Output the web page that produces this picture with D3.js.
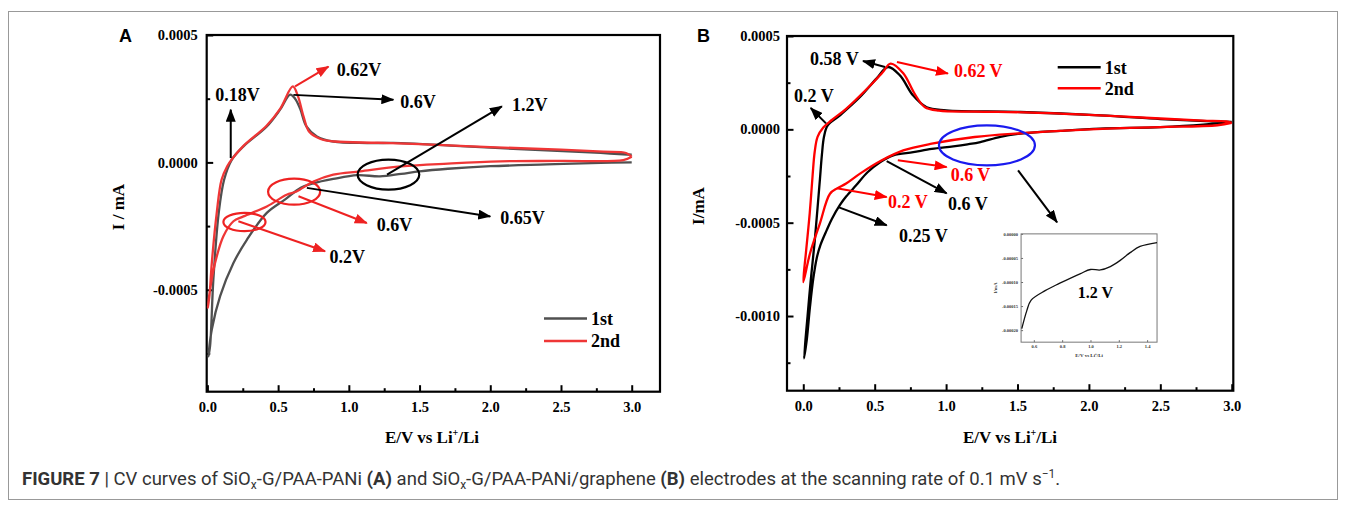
<!DOCTYPE html>
<html lang="en">
<head>
<meta charset="UTF-8">
<title>CV curves</title>
<style>
    body { margin: 0; background: #fff; }
    .serif { font-family: "Liberation Serif", "Times New Roman", serif; font-weight: bold; }
</style>
</head>
<body>
<script src="https://cdn.jsdelivr.net/npm/d3@7"></script>
<script>
    // ---- data (E in V, I in mA) ----
    const xTickValues = [0, 0.5, 1, 1.5, 2, 2.5, 3];
    const xTickLabels = ["0.0", "0.5", "1.0", "1.5", "2.0", "2.5", "3.0"];
    const xMinorValues = [0.25, 0.75, 1.25, 1.75, 2.25, 2.75];
    const yTickValuesA = [-0.0005, 0, 0.0005];
    const yTickLabelsA = ["-0.0005", "0.0000", "0.0005"];
    const yMinorValuesA = [-0.00075, -0.00025, 0.00025];
    const yTickValuesB = [-0.001, -0.0005, 0, 0.0005];
    const yTickLabelsB = ["-0.0010", "-0.0005", "0.0000", "0.0005"];
    const yMinorValuesB = [-0.00125, -0.00075, -0.00025, 0.00025];
    const seriesNames = ["1st", "2nd"];

    // panel A, 1st cycle (cathodic from 3.0 V, then anodic)
    const cvA1 = [
        [3.0, 0.0], [2.78, -0.000002], [2.4, -0.000008], [2.0, -0.000015], [1.7, -0.000025],
        [1.5, -0.000035], [1.37, -0.000045], [1.22, -0.000055], [1.06, -0.00005], [0.89, -0.000065],
        [0.75, -0.000082], [0.66, -0.0001], [0.55, -0.000145], [0.42, -0.000198], [0.28, -0.000303],
        [0.184, -0.000395], [0.09, -0.000525], [0.031, -0.000656], [0.007, -0.000761],
        [0.019, -0.00072], [0.042, -0.00046], [0.08, -0.000198], [0.118, -0.000068], [0.172, 0.00001],
        [0.255, 0.000063], [0.42, 0.000141], [0.514, 0.000207], [0.585, 0.000266], [0.62, 0.00025],
        [0.656, 0.00021], [0.7, 0.000141], [0.774, 0.000102], [0.89, 0.000082], [1.13, 0.000076],
        [1.37, 0.000076], [1.72, 0.000066], [2.2, 0.000052], [2.78, 0.000037], [3.0, 0.00003]
    ];
    // panel A, 2nd cycle
    const cvA2 = [
        [3.0, 0.000022], [2.94, 0.000009], [2.5, 0.000006], [2.07, 0.000004], [1.7, -0.000005],
        [1.37, -0.000016], [1.08, -0.000035], [0.89, -0.000048], [0.75, -0.000075], [0.63, -0.000114],
        [0.56, -0.000127], [0.42, -0.000173], [0.255, -0.000212], [0.184, -0.000231], [0.113, -0.00029],
        [0.054, -0.000395], [0.019, -0.000499], [0.003, -0.000571],
        [0.015, -0.00052], [0.031, -0.000395], [0.066, -0.000198], [0.1, -0.000068], [0.14, -0.000015],
        [0.172, 0.000012], [0.255, 0.000065], [0.42, 0.000145], [0.514, 0.00021], [0.604, 0.000298],
        [0.64, 0.00026], [0.68, 0.00018], [0.72, 0.00012], [0.8, 0.000092], [0.9, 0.000082],
        [1.2, 0.000077], [1.5, 0.000072], [2.0, 0.00006], [2.5, 0.00005], [2.8, 0.000042],
        [2.96, 0.000037], [3.0, 0.000022]
    ];
    // panel B, 1st cycle
    const cvB1 = [
        [3.0, 0.00004], [2.8, 0.000025], [2.5, 0.000012], [2.08, 0.000004], [1.8, -0.000008],
        [1.52, -0.000023], [1.38, -0.00004], [1.24, -0.000068], [1.15, -0.00008], [1.05, -0.000091],
        [0.9, -0.000105], [0.77, -0.000122], [0.63, -0.000139], [0.54, -0.000175], [0.45, -0.00023],
        [0.37, -0.0003], [0.3, -0.00036], [0.257, -0.000405], [0.2, -0.00048], [0.164, -0.00054],
        [0.12, -0.00062], [0.094, -0.00069], [0.07, -0.0008], [0.047, -0.00095], [0.024, -0.00113],
        [0.005, -0.001227],
        [0.03, -0.001], [0.052, -0.00081], [0.08, -0.0006], [0.1, -0.00042], [0.116, -0.000273],
        [0.13, -0.00014], [0.145, -0.00004], [0.17, 0.00002], [0.257, 0.000075], [0.397, 0.000173],
        [0.514, 0.000273], [0.593, 0.000334], [0.677, 0.000289], [0.768, 0.000182], [0.864, 0.000118],
        [1.0, 0.000102], [1.52, 0.000093], [2.08, 0.000075], [2.5, 0.000055], [2.78, 0.000045],
        [3.0, 0.00004]
    ];
    // panel B, 2nd cycle
    const cvB2 = [
        [3.0, 0.000034], [2.9, 0.000022], [2.5, 0.000012], [2.22, 0.000006], [1.8, -0.000008],
        [1.52, -0.000021], [1.2, -0.000041], [0.9, -0.000077], [0.7, -0.000113], [0.55, -0.000166],
        [0.4, -0.000236], [0.3, -0.00029], [0.24, -0.000315], [0.187, -0.000345], [0.116, -0.000505],
        [0.047, -0.000665], [0.0, -0.000818],
        [0.02, -0.00065], [0.045, -0.00045], [0.065, -0.00025], [0.08, -0.00012], [0.1, -0.00004],
        [0.14, 0.00001], [0.2, 0.00005], [0.3, 0.00011], [0.45, 0.00022], [0.55, 0.0003],
        [0.612, 0.000352], [0.7, 0.0003], [0.78, 0.00019], [0.85, 0.00012], [0.95, 0.0001],
        [1.2, 0.000095], [1.6, 0.00009], [2.0, 0.000078], [2.5, 0.000058], [2.8, 0.000047],
        [2.96, 0.000042], [3.0, 0.000034]
    ];
    // inset of panel B, 1st cycle near 1.2 V
    const insetB = [
        [0.515, -0.000197], [0.55, -0.00016], [0.58, -0.000138], [0.68, -0.000118], [0.78, -0.000103],
        [0.93, -0.0000824], [1.0, -0.000074], [1.07, -0.000075], [1.14, -0.000068], [1.21, -0.000055],
        [1.28, -0.000039], [1.35, -0.000026], [1.47, -0.000018]
    ];
    const insetXTicks = [0.6, 0.8, 1.0, 1.2, 1.4];
    const insetXLabels = ["0.6", "0.8", "1.0", "1.2", "1.4"];
    const insetYTicks = [0, -0.00005, -0.0001, -0.00015, -0.0002];
    const insetYLabels = ["0.00000", "-0.00005", "-0.00010", "-0.00015", "-0.00020"];

    let width = 1346;
    let height = 509;
    let svg = d3.select("body").append("svg")
        .attr("width", width)
        .attr("height", height);

    let defs = svg.append("defs");
    function marker(id, color) {
        defs.append("marker")
            .attr("id", id)
            .attr("markerUnits", "userSpaceOnUse")
            .attr("markerWidth", 13).attr("markerHeight", 10)
            .attr("refX", 12).attr("refY", 5)
            .attr("orient", "auto")
            .append("path").attr("d", "M0,0 L13,5 L0,10 Z").attr("fill", color);
    }
    marker("ak", "#000");
    marker("ar", "#ee2222");
    marker("ar2", "#ff0000");

    // outer figure frame
    svg.append("rect")
        .attr("x", 8.5).attr("y", 11.5)
        .attr("width", 1329).attr("height", 488)
        .attr("fill", "none").attr("stroke", "#999").attr("stroke-width", 1);

    function styleAxis(sel, size) {
        sel.select(".domain").remove();
        sel.selectAll("line").attr("stroke", "#000").attr("stroke-width", 2);
        sel.selectAll("text")
            .attr("class", "serif")
            .attr("font-size", size)
            .attr("fill", "#000");
    }

    function panel(cfg) {
        let x = d3.scaleLinear().domain(cfg.xDomain).range([cfg.left, cfg.right]);
        let y = d3.scaleLinear().domain(cfg.yDomain).range([cfg.bottom, cfg.top]);
        let g = svg.append("g");

        g.append("g").attr("transform", `translate(0,${cfg.bottom})`)
            .call(d3.axisBottom(x).tickValues(xMinorValues).tickSize(-3.5).tickFormat(""))
            .call(s => styleAxis(s, 14.5));
        g.append("g").attr("transform", `translate(0,${cfg.bottom})`)
            .call(d3.axisBottom(x).tickValues(xTickValues).tickSize(-6.5).tickPadding(10)
                .tickFormat((d, i) => xTickLabels[i]))
            .call(s => styleAxis(s, 14.5));
        g.append("g").attr("transform", `translate(${cfg.left},0)`)
            .call(d3.axisLeft(y).tickValues(cfg.yMinor).tickSize(-3.5).tickFormat(""))
            .call(s => styleAxis(s, 14.5));
        g.append("g").attr("transform", `translate(${cfg.left},0)`)
            .call(d3.axisLeft(y).tickValues(cfg.yTicks).tickSize(-6.5).tickPadding(cfg.yPad)
                .tickFormat((d, i) => cfg.yLabels[i]))
            .call(s => styleAxis(s, 14.5));

        g.append("rect")
            .attr("x", cfg.left).attr("y", cfg.top)
            .attr("width", cfg.right - cfg.left).attr("height", cfg.bottom - cfg.top)
            .attr("fill", "none").attr("stroke", "#000").attr("stroke-width", 2.2);

        let line = d3.line()
            .x(d => x(d[0])).y(d => y(d[1]))
            .curve(d3.curveCatmullRom.alpha(0.5));
        cfg.series.forEach((s, i) => {
            g.append("path").datum(s)
                .attr("d", line)
                .attr("fill", "none")
                .attr("stroke", cfg.colors[i])
                .attr("stroke-width", 2.3)
                .attr("stroke-linejoin", "round");
        });

        // axis titles
        let xt = g.append("text").attr("class", "serif")
            .attr("x", cfg.xTitle[0]).attr("y", cfg.xTitle[1])
            .attr("text-anchor", "middle").attr("font-size", 17);
        xt.append("tspan").text("E/V vs Li");
        xt.append("tspan").attr("font-size", 10).attr("dy", -7).text("+");
        xt.append("tspan").attr("dy", 7).text("/Li");
        g.append("text").attr("class", "serif")
            .attr("transform", `translate(${cfg.yTitle[0]},${cfg.yTitle[1]}) rotate(-90)`)
            .attr("text-anchor", "middle").attr("font-size", 17)
            .text(cfg.yTitleText);

        // panel letter
        g.append("text")
            .attr("x", cfg.letter[0]).attr("y", cfg.letter[1])
            .attr("font-family", "Arial, 'Liberation Sans', sans-serif")
            .attr("font-weight", "bold").attr("font-size", 18)
            .text(cfg.letterText);

        // legend
        cfg.colors.forEach((c, i) => {
            let ly = cfg.legend[1] + i * cfg.legend[2];
            g.append("line")
                .attr("x1", cfg.legend[0]).attr("x2", cfg.legend[0] + 43)
                .attr("y1", ly).attr("y2", ly)
                .attr("stroke", c).attr("stroke-width", 2.6);
            g.append("text").attr("class", "serif")
                .attr("x", cfg.legend[0] + 47).attr("y", ly).attr("dy", "0.35em")
                .attr("font-size", 18).text(seriesNames[i]);
        });

        // annotations (given in data coordinates)
        cfg.ellipses.forEach(e => {
            g.append("ellipse")
                .attr("cx", x(e.c[0])).attr("cy", y(e.c[1]))
                .attr("rx", x(e.c[0] + e.r[0]) - x(e.c[0]))
                .attr("ry", y(e.c[1]) - y(e.c[1] + e.r[1]))
                .attr("fill", "none").attr("stroke", e.color).attr("stroke-width", 2.2);
        });
        cfg.arrows.forEach(a => {
            g.append("line")
                .attr("x1", x(a.from[0])).attr("y1", y(a.from[1]))
                .attr("x2", x(a.to[0])).attr("y2", y(a.to[1]))
                .attr("stroke", a.color).attr("stroke-width", 2)
                .attr("marker-end", `url(#${a.marker})`);
        });
        cfg.labels.forEach(l => {
            g.append("text").attr("class", "serif")
                .attr("x", x(l.at[0])).attr("y", y(l.at[1])).attr("dy", "0.35em")
                .attr("font-size", 18).attr("fill", l.color)
                .text(l.text);
        });
        return {x: x, y: y, g: g};
    }

    panel({
        left: 206.7, right: 660, top: 35, bottom: 391.7,
        xDomain: [-0.005, 3.2], yDomain: [-0.0009, 0.0005],
        yTicks: yTickValuesA, yLabels: yTickLabelsA, yMinor: yMinorValuesA, yPad: 9,
        series: [cvA1, cvA2], colors: ["#505050", "#ef3636"],
        xTitle: [432, 443], yTitle: [124, 207], yTitleText: "I / mA",
        letter: [119, 42], letterText: "A",
        legend: [544, 318.5, 22.5],
        ellipses: [
            {c: [1.28, -0.000048], r: [0.218, 0.0000588], color: "#000"},
            {c: [0.613, -0.000115], r: [0.184, 0.000051], color: "#ee2222"},
            {c: [0.262, -0.000234], r: [0.149, 0.000036], color: "#ee2222"}
        ],
        arrows: [
            {from: [0.62, 0.000298], to: [0.856, 0.000376], color: "#ee2222", marker: "ar"},
            {from: [0.165, 0.000017], to: [0.165, 0.000207], color: "#000", marker: "ak"},
            {from: [0.608, 0.000265], to: [1.315, 0.000246], color: "#000", marker: "ak"},
            {from: [1.27, -0.000048], to: [2.082, 0.00022], color: "#000", marker: "ak"},
            {from: [0.703, -0.0001], to: [2.0, -0.000212], color: "#000", marker: "ak"},
            {from: [0.644, -0.000133], to: [1.127, -0.000238], color: "#ee2222", marker: "ar"},
            {from: [0.219, -0.000231], to: [0.832, -0.000349], color: "#ee2222", marker: "ar"}
        ],
        labels: [
            {text: "0.62V", at: [0.915, 0.000364], color: "#000"},
            {text: "0.18V", at: [0.055, 0.000265], color: "#000"},
            {text: "0.6V", at: [1.363, 0.000239], color: "#000"},
            {text: "1.2V", at: [2.153, 0.000226], color: "#000"},
            {text: "0.65V", at: [2.07, -0.000218], color: "#000"},
            {text: "0.6V", at: [1.198, -0.000244], color: "#000"},
            {text: "0.2V", at: [0.863, -0.000369], color: "#000"}
        ]
    });

    let pB = panel({
        left: 787, right: 1233.3, top: 36, bottom: 390.7,
        xDomain: [-0.114, 3.011], yDomain: [-0.0014, 0.0005],
        yTicks: yTickValuesB, yLabels: yTickLabelsB, yMinor: yMinorValuesB, yPad: 7,
        series: [cvB1, cvB2], colors: ["#000", "#ff0000"],
        xTitle: [1010, 443], yTitle: [704, 206], yTitleText: "I/mA",
        letter: [697, 42], letterText: "B",
        legend: [1057.7, 67.3, 21],
        ellipses: [
            {c: [1.286, -0.0000857], r: [0.336, 0.000107], color: "#1a1aee"}
        ],
        arrows: [
            {from: [0.572, 0.000334], to: [0.418, 0.000366], color: "#000", marker: "ak"},
            {from: [0.656, 0.000361], to: [1.013, 0.000299], color: "#ff0000", marker: "ar2"},
            {from: [0.159, 0.000032], to: [0.052, 0.000114], color: "#000", marker: "ak"},
            {from: [0.662, -0.000166], to: [1.004, -0.000202], color: "#ff0000", marker: "ar2"},
            {from: [0.584, -0.00017], to: [1.004, -0.000343], color: "#000", marker: "ak"},
            {from: [0.234, -0.000316], to: [0.584, -0.000363], color: "#ff0000", marker: "ar2"},
            {from: [0.25, -0.000418], to: [0.584, -0.000514], color: "#000", marker: "ak"},
            {from: [1.504, -0.00022], to: [1.777, -0.000498], color: "#000", marker: "ak"}
        ],
        labels: [
            {text: "0.58 V", at: [0.047, 0.00038], color: "#000"},
            {text: "0.62 V", at: [1.055, 0.000316], color: "#ff0000"},
            {text: "0.2 V", at: [-0.065, 0.000182], color: "#000"},
            {text: "0.6 V", at: [1.032, -0.000241], color: "#ff0000"},
            {text: "0.6 V", at: [1.013, -0.000397], color: "#000"},
            {text: "0.2 V", at: [0.593, -0.00039], color: "#ff0000"},
            {text: "0.25 V", at: [0.67, -0.000568], color: "#000"}
        ]
    });

    // inset in panel B
    (function () {
        let left = pB.x(1.525), right = pB.x(2.477);
        let top = pB.y(-0.00056), bottom = pB.y(-0.00114);
        let ix = d3.scaleLinear().domain([0.51, 1.47]).range([left, right]);
        let iy = d3.scaleLinear().domain([-0.000225, 0]).range([bottom, top]);
        let g = svg.append("g");
        let ax = g.append("g").attr("transform", `translate(0,${bottom})`)
            .call(d3.axisBottom(ix).tickValues(insetXTicks).tickSize(-2).tickPadding(3)
                .tickFormat((d, i) => insetXLabels[i]));
        let ay = g.append("g").attr("transform", `translate(${left},0)`)
            .call(d3.axisLeft(iy).tickValues(insetYTicks).tickSize(-2).tickPadding(3)
                .tickFormat((d, i) => insetYLabels[i]));
        [ax, ay].forEach(a => {
            a.select(".domain").remove();
            a.selectAll("line").attr("stroke", "#444").attr("stroke-width", 0.8);
            a.selectAll("text").attr("class", "serif").attr("font-size", 4.5).attr("fill", "#333");
        });
        g.append("rect")
            .attr("x", left).attr("y", top).attr("width", right - left).attr("height", bottom - top)
            .attr("fill", "none").attr("stroke", "#777").attr("stroke-width", 1);
        g.append("path").datum(insetB)
            .attr("d", d3.line().x(d => ix(d[0])).y(d => iy(d[1])).curve(d3.curveCatmullRom.alpha(0.5)))
            .attr("fill", "none").attr("stroke", "#111").attr("stroke-width", 1.3);
        let t = g.append("text").attr("class", "serif")
            .attr("x", (left + right) / 2).attr("y", bottom + 15)
            .attr("text-anchor", "middle").attr("font-size", 5).attr("fill", "#333");
        t.append("tspan").text("E/V vs Li");
        t.append("tspan").attr("font-size", 3).attr("dy", -2).text("+");
        t.append("tspan").attr("dy", 2).text("/Li");
        g.append("text").attr("class", "serif")
            .attr("transform", `translate(${left - 24},${(top + bottom) / 2}) rotate(-90)`)
            .attr("text-anchor", "middle").attr("font-size", 5).attr("fill", "#333")
            .text("I/mA");
        g.append("text").attr("class", "serif")
            .attr("x", ix(0.911)).attr("y", iy(-0.000122)).attr("dy", "0.35em")
            .attr("font-size", 16).text("1.2 V");
    })();

    // caption
    let cap = svg.append("text")
        .attr("x", 22).attr("y", 485)
        .attr("font-family", "Roboto, 'Noto Sans', sans-serif")
        .attr("font-size", 18.5).attr("fill", "#333");
    cap.append("tspan").attr("font-weight", "bold").text("FIGURE 7");
    cap.append("tspan").text(" | CV curves of SiO");
    cap.append("tspan").attr("font-size", 12).attr("dy", 4).text("x");
    cap.append("tspan").attr("dy", -4).text("-G/PAA-PANi ");
    cap.append("tspan").attr("font-weight", "bold").text("(A)");
    cap.append("tspan").text(" and SiO");
    cap.append("tspan").attr("font-size", 12).attr("dy", 4).text("x");
    cap.append("tspan").attr("dy", -4).text("-G/PAA-PANi/graphene ");
    cap.append("tspan").attr("font-weight", "bold").text("(B)");
    cap.append("tspan").text(" electrodes at the scanning rate of 0.1 mV s");
    cap.append("tspan").attr("font-size", 12).attr("dy", -7).text("\u22121");
    cap.append("tspan").attr("dy", 7).text(".");
</script>
</body>
</html>
